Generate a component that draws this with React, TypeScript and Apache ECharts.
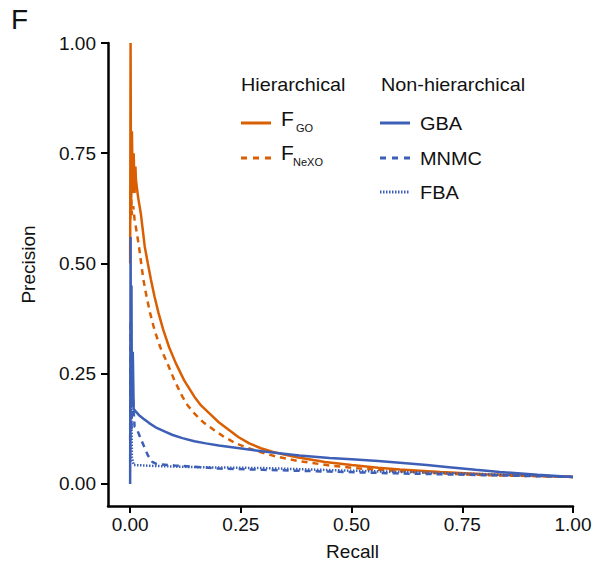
import React, { useEffect, useRef } from "react";
import * as echarts from "echarts";

// Precision-recall curves: [recall, precision]
const fGO: [number, number][] = [
  [0, 0.5], [0.001, 1.0], [0.002, 0.62], [0.004, 0.8], [0.006, 0.66], [0.008, 0.75],
  [0.010, 0.66], [0.012, 0.72], [0.013, 0.69], [0.018, 0.65], [0.024, 0.614], [0.033, 0.538],
  [0.04, 0.5], [0.047, 0.463], [0.055, 0.425], [0.064, 0.388], [0.075, 0.349], [0.088, 0.31],
  [0.103, 0.274], [0.122, 0.235], [0.145, 0.198], [0.16, 0.178], [0.179, 0.16], [0.2, 0.14],
  [0.224, 0.122], [0.245, 0.106], [0.269, 0.092], [0.295, 0.081], [0.321, 0.073], [0.35, 0.066],
  [0.38, 0.06], [0.44, 0.05], [0.5, 0.043], [0.56, 0.037], [0.609, 0.033], [0.7, 0.027],
  [0.8, 0.022], [0.9, 0.019], [1.0, 0.016],
];
const fNeXO: [number, number][] = [
  [0, 0.6], [0.002, 0.66], [0.004, 0.61], [0.007, 0.63], [0.010, 0.6], [0.015, 0.57],
  [0.020, 0.538], [0.025, 0.5], [0.030, 0.463], [0.037, 0.425], [0.045, 0.388], [0.055, 0.349],
  [0.068, 0.31], [0.084, 0.274], [0.1, 0.235], [0.118, 0.198], [0.13, 0.178], [0.145, 0.16],
  [0.165, 0.14], [0.19, 0.122], [0.213, 0.106], [0.239, 0.092], [0.265, 0.082], [0.292, 0.073],
  [0.33, 0.062], [0.38, 0.052], [0.457, 0.041], [0.53, 0.034], [0.609, 0.029], [0.7, 0.024],
  [0.8, 0.02], [0.9, 0.018], [1.0, 0.016],
];
const gba: [number, number][] = [
  [0, 0], [0.001, 0.56], [0.002, 0.2], [0.003, 0.45], [0.004, 0.18], [0.006, 0.3],
  [0.008, 0.17], [0.013, 0.164], [0.02, 0.156], [0.03, 0.148], [0.043, 0.138], [0.06, 0.127],
  [0.08, 0.118], [0.096, 0.111], [0.118, 0.104], [0.145, 0.097], [0.171, 0.092], [0.2, 0.087],
  [0.247, 0.081], [0.307, 0.073], [0.382, 0.0645], [0.45, 0.059], [0.5, 0.056], [0.56, 0.052],
  [0.609, 0.048], [0.67, 0.043], [0.72, 0.038], [0.78, 0.032], [0.835, 0.027], [0.92, 0.021],
  [1.0, 0.016],
];
const mnmc: [number, number][] = [
  [0, 0.1], [0.001, 0.37], [0.003, 0.12], [0.005, 0.22], [0.01, 0.13], [0.015, 0.125],
  [0.025, 0.1], [0.04, 0.065], [0.05, 0.05], [0.06, 0.045], [0.1, 0.042], [0.2, 0.035],
  [0.3, 0.032], [0.45, 0.028], [0.6, 0.024], [0.8, 0.02], [1.0, 0.016],
];
const fba: [number, number][] = [
  [0, 0.05], [0.002, 0.25], [0.004, 0.06], [0.008, 0.043], [0.05, 0.041], [0.15, 0.038],
  [0.3, 0.036], [0.5, 0.03], [0.7, 0.025], [0.85, 0.021], [1.0, 0.016],
];

const tickValues = [0, 0.25, 0.5, 0.75, 1.0];

const ORANGE = "#d95f02";
const BLUE = "#3d5fb6";
const FONT = "Liberation Sans, Arial, sans-serif";

export default function App() {
  const ref = useRef<HTMLDivElement>(null);
  useEffect(() => {
    if (!ref.current) return;
    const chart = echarts.init(ref.current, null, { renderer: "svg" });
    const axisCommon = {
      type: "value" as const,
      min: -0.05,
      max: 1,
      axisLine: { show: true, onZero: false, lineStyle: { color: "#000", width: 2.5 } },
      axisTick: { show: true, customValues: tickValues, length: 7, lineStyle: { color: "#000", width: 2 } },
      splitLine: { show: false },
      nameLocation: "middle" as const,
    };
    const axisLabel = (margin: number) => ({
      customValues: tickValues,
      formatter: (v: number) => v.toFixed(2),
      fontFamily: FONT,
      fontSize: 19,
      color: "#111",
      margin,
    });
    const line = (name: string, data: [number, number][], color: string, type: any) => ({
      name,
      type: "line",
      data,
      showSymbol: false,
      symbol: "none",
      lineStyle: { color, width: 2.5, type },
      z: 2,
    });
    const legendLine = (x: number, y: number, color: string, type: any) => ({
      type: "line",
      shape: { x1: x, y1: y, x2: x + 30, y2: y },
      style: { stroke: color, lineWidth: 3, lineDash: type },
    });
    const txt = (x: number, y: number, text: string, size: number, sx = 1) => ({
      type: "text",
      x,
      y,
      scaleX: sx,
      style: { text, fontFamily: FONT, fontSize: size, fill: "#111", align: "left", verticalAlign: "middle" },
    });
    chart.setOption({
      animation: false,
      grid: { left: 108, right: 34, top: 43, bottom: 63 },
      xAxis: {
        ...axisCommon,
        name: "Recall",
        nameGap: 36,
        nameTextStyle: { fontFamily: FONT, fontSize: 19, color: "#111", padding: [0, 0, 0, 24] },
        axisLabel: axisLabel(9),
      },
      yAxis: {
        ...axisCommon,
        name: "Precision",
        nameGap: 70,
        nameTextStyle: { fontFamily: FONT, fontSize: 19, color: "#111", padding: [0, 0, 0, 20] },
        axisLabel: axisLabel(12),
      },
      series: [
        line("F_GO", fGO, ORANGE, "solid"),
        line("F_NeXO", fNeXO, ORANGE, [6, 5]),
        line("GBA", gba, BLUE, "solid"),
        line("MNMC", mnmc, BLUE, [6, 5]),
        line("FBA", fba, BLUE, [1.5, 1.5]),
      ],
      graphic: [
        txt(11, 19, "F", 28),
        txt(241, 85, "Hierarchical", 18, 1.1),
        txt(381, 85, "Non-hierarchical", 18, 1.1),
        legendLine(241, 123, ORANGE, null),
        legendLine(241, 158, ORANGE, [6, 6]),
        legendLine(380, 123, BLUE, null),
        legendLine(380, 158, BLUE, [6, 6]),
        legendLine(380, 192, BLUE, [1.5, 1.5]),
        txt(281, 118, "F", 21),
        txt(296, 128, "GO", 11),
        txt(281, 152, "F", 21),
        txt(293, 162, "NeXO", 11),
        txt(420, 123, "GBA", 19, 1.05),
        txt(420, 158, "MNMC", 19, 1.05),
        txt(420, 192, "FBA", 19, 1.05),
      ],
    });
    return () => chart.dispose();
  }, []);
  return <div ref={ref} style={{ width: 607, height: 569, margin: -8 }} />;
}
